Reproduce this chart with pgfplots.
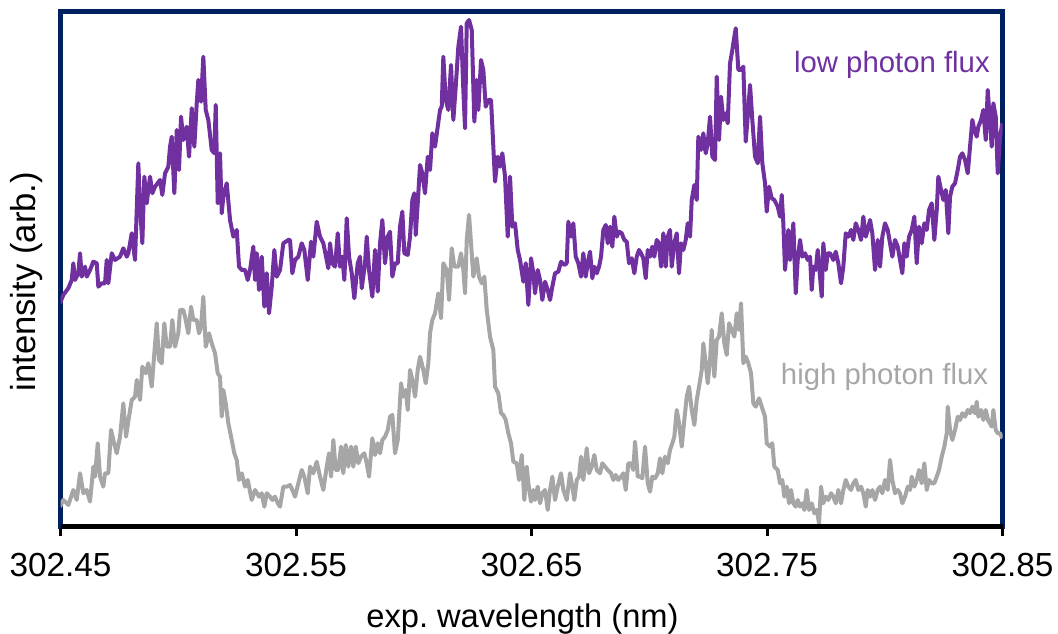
\documentclass[border=0pt]{standalone}
\usepackage{pgfplots}
\pgfplotsset{compat=1.18}
\usepackage{pgfplotstable}
\usepackage{fontspec}
\setmainfont{Liberation Sans}
\definecolor{navy}{HTML}{002060}
\definecolor{fluxpurple}{HTML}{7030A0}
\definecolor{fluxgray}{HTML}{A6A6A6}

% px = horizontal position (pixel units of the original plot), py = vertical position (pixel, down)
\pgfplotstableread{
px py
60 303.3
63.3 295
68.3 288.3
71.7 280
73.3 263.3
75 280
78.3 273.3
80 253.3
81.7 276.7
85 266.7
86.7 276.7
90 270
93.3 261.7
96.7 263.3
98.3 286.7
101.7 283.3
105 283.3
106.7 260
108.3 283.3
111.7 253.3
115 260
120 256.7
123.3 248.3
126.7 256.7
128.3 253.3
131.7 233.3
135 260
138.3 163.3
140 206.7
142.3 243.3
144.3 176.7
146.7 203.3
150 176.7
152.3 193.3
155 186.7
160 180
162.3 195
165 173.3
168.3 166.7
170 146.7
171.7 136.7
174.3 193.3
176.7 130
179 170
181 116.7
183.3 140
186.7 126.7
189 156.7
191.7 108.3
194.3 146.7
196.7 103.3
198.3 80
201 101.7
203.3 56.7
205.7 110
208.3 120
211.7 150
214.3 153.3
215.7 105
217.7 203.3
220 153.3
221.7 213.3
223.3 196.7
226.7 183.3
230 220
233.3 236.7
236.7 230
239 266.7
241.7 270
245 270
247.7 280
250 270
253.3 246.7
255 280
256.7 253.3
259 290
261.7 256.7
264.3 306.7
266.7 273.3
269 313.3
271.7 286.7
274.3 250
276.7 276.7
280 270
283.3 243.3
288.3 240
290 240
292.3 273.3
295 260
298.3 256.7
301.7 243.3
304.3 250
307.7 280
311 241.7
313.3 256.7
316.7 221.7
320 236.7
323.3 243.3
325.7 255
328.3 268.3
330 243.3
332.3 263.3
335 266.7
337.7 233.3
340 266.7
342.3 256.7
344.3 280
346.7 218.3
349 256.7
351.7 273.3
354.3 298.3
357.7 263.3
360 256.7
361.7 288.3
365 263.3
366.7 236.7
369 270
372.3 296.7
375 250
377.7 291.7
380 243.3
382.3 220
385 263.3
387.7 236.7
390 231.7
392.3 276.7
395 263.3
397.7 263.3
400 226.7
402.3 211.7
404.3 253.3
407.7 255
410 236.7
412.3 200
414.3 193.3
415.7 235
417.7 203.3
420 165
422.3 173.3
425 193.3
427.7 156.7
430 170
432.3 133.3
435 146.7
437.7 126.7
440 110
441.7 106.7
443.3 56.7
445.7 100
448.3 110
451 65
453.3 120
455.7 86.7
458.3 46.7
461 26.7
463.3 90
465 128.3
466.7 23.3
469 20
471.7 30
474.3 121.7
476.7 80
478.3 110
481 60
483.3 70
485.7 106.7
488.3 100
491 100
493.3 146.7
495 181.7
497.7 156.7
500 166.7
502.3 153.3
505 176.7
507.7 236.7
510 176.7
512.3 226.7
515 223.3
517.7 250
520 260
523.3 281.7
525.7 263.3
528.3 305
531 258.3
533.3 273.3
535 293.3
537.7 270
540 280
542.3 300
545 281.7
547.7 290
550 300
552.3 286.7
555 273.3
558.3 271.7
561 261.7
564.3 265
566.7 263.3
568.3 221.7
571 236.7
573.3 223.3
575.7 256.7
578.3 263.3
581 276.7
583.3 253.3
585.7 276.7
587.7 263.3
590 251.7
592.3 278.3
594.3 266.7
596.7 273.3
599 266.7
601 256.7
603.3 230
605.7 225
607.7 243.3
610 226.7
612.3 246.7
614.3 216.7
616.7 236.7
619 231.7
621.7 233.3
624.3 240
626.7 241.7
629 263.3
631.7 258.3
634.3 273.3
636.7 256.7
639 250
641 253.3
643.3 258.3
645.7 278.3
647.7 250
650 256.7
652.3 246.7
654.3 256.7
656.7 240
659 243.3
661 266.7
663.3 233.3
665.7 266.7
667.7 236.7
670 230
671.7 266.7
674.3 243.3
676.7 233.3
679 273.3
681 243.3
683.3 250
685.7 240
687.7 223.3
690 236.7
691.7 200
694.3 185
696.7 200
698.3 136.7
701 150
703.3 133.3
705.7 153.3
707.7 143.3
710 116.7
712.3 156.7
715 160
716.7 76.7
719 140
721 96.7
723.3 120
725.7 113.3
727.7 123.3
730 63.3
732.3 50
734.3 36.7
735.7 28.3
738.3 70
741 70
743.3 66.7
745.7 141.7
747.7 116.7
750 85
752.3 120
755 156.7
757.7 163.3
760 116.7
762.3 163.3
765 183.3
766.7 211.7
769 186.7
771.7 198.3
774.3 200
777.7 206.7
780 216.7
781.7 195
783.3 223.3
785 270
786.7 250
788.3 230
790 260
791.7 243.3
793.3 223.3
795.7 293.3
797.7 260
800 240
802.3 256.7
805 253.3
807.7 260
810 256.7
811.7 290
813.3 266.7
815.7 270
817.7 250
820 276.7
821.7 296.7
823.3 243.3
825.7 270
827.7 253.3
830 253.3
833.3 260
835.7 251.7
838.3 263.3
841 283.3
843.3 266.7
845.7 233.3
848.3 236.7
851 230
853.3 240
855.7 223.3
858.3 230
861 240
863.3 216.7
865.7 236.7
867.7 230
870 220
872.3 233.3
875 270
877.7 240
880 266.7
882.3 236.7
885 223.3
887.7 230
890 243.3
892.3 256.7
895 240
897.7 246.7
900 260
902.3 273.3
904.3 243.3
906.7 256.7
909 236.7
911.7 230
914.3 216.7
916.7 263.3
919 226.7
921.7 243.3
924.3 223.3
926.7 230
929 210
931.7 203.3
934.3 240
936.7 210
938.3 176.7
941 190
943.3 200
945.7 190
948.3 233.3
950 196.7
952.3 186.7
955 183.3
957.7 170
960 156.7
962.3 153.3
965 160
967.7 173.3
970 146.7
972.3 120
974.3 130
976.7 136.7
978.3 126.7
981 120
983.3 110
985.7 140
987.7 90
990 123.3
991.7 146.7
993.3 103.3
995.7 116.7
997.7 173.3
1000 136.7
1002.3 123.3
}\lowflux

\pgfplotstableread{
px py
60 506.7
63.3 500
68.3 505
73.3 490
76.7 500
80 473.3
83.3 493.3
86.7 490
90 501.7
93.3 466.7
95 476.7
97.7 443.3
100 476.7
103.3 486.7
105 473.3
108.3 473.3
111 430
113.3 440
116.7 453.3
120 436.7
123.3 403.3
126 436.7
129 416.7
131.7 400
135 396.7
136.7 380
140 400
142.3 366.7
145.7 373.3
148.3 363.3
151.7 386.7
154.3 353.3
156.7 323.3
159 360
161.7 363.3
164.3 323.3
166.7 346.7
170 346.7
172.3 320
175 346.7
178.3 333.3
180 310
183.3 310
185 316.7
188.3 333.3
191 306.7
193.3 320
196.7 320
199 333.3
201 326.7
203.3 296.7
205.7 346.7
209 333.3
211.7 343.3
215 353.3
217.7 373.3
220 376.7
221.7 416.7
223.3 390
225.7 403.3
228.3 423.3
231.7 440
234.3 453.3
236.7 460
239 480
241.7 473.3
245 486.7
247.7 480
251.7 500
255 490
259 496.7
261.7 493.3
264.3 506.7
266.7 493.3
270 496.7
272.3 500
275 496.7
277.7 503.3
280 506.7
283.3 486.7
286.7 486.7
290 485
292.3 490
295 496.7
298.3 483.3
301.7 470
304.3 476.7
307.7 493.3
310 466.7
313.3 473.3
316.7 461.7
320 476.7
323.3 490
326.7 466.7
329 453.3
331 476.7
333.3 440
335.7 470
338.3 470
341 446.7
343.3 473.3
345.7 445
348.3 466.7
351 446.7
353.3 466.7
355.7 446.7
358.3 463.3
361 456.7
364.3 453.3
366.7 463.3
369 476.7
372.3 438.3
375 455
377.7 443.3
380 453.3
382.3 440
385 436.7
387.7 430
390 416.7
392.3 415
395 453.3
397.7 440
401 383.3
403.3 396.7
405.7 390
407.7 410
410 370
412.3 380
415 396.7
417.7 370
420 356.7
423.3 370
425.7 383.3
428.3 363.3
430 333.3
432.3 320
435 313.3
438.3 293.3
441 318.3
443.3 263.3
446.7 270
449 300
451.7 248.3
454.3 266.7
456.7 266.7
458.3 266.7
461 253.3
463.3 270
465 293.3
466.7 240
469 215
471 243.3
473.3 276.7
476.7 258.3
479 276.7
481.7 283.3
484.3 276.7
486.7 310
490 336.7
493.3 350
495 386.7
498.3 393.3
501 413.3
503.3 415
505.7 420
508.3 433.3
511 443.3
513.3 461.7
516.7 463.3
519 480
521.7 455
524.3 500
526.7 466.7
528.3 483.3
531 501.7
533.3 490
535 500
537.7 486.7
540 503.3
542.3 493.3
545 490
547.7 510
550 490
552.3 476.7
555 500
557.7 486.7
561 473.3
563.3 490
566.7 500
570 473.3
572.3 486.7
574.3 500
576.7 480
579 476.7
581 456.7
583.3 480
586.7 448.3
589 473.3
591.7 466.7
594.3 455
596.7 470
600 473.3
602.3 463.3
605 466.7
607.7 470
611 473.3
613.3 480
615.7 475
618.3 480
621 476.7
623.3 473.3
625.7 490
628.3 463.3
631 463.3
633.3 470
635 441.7
637.7 476.7
640 476.7
642.3 478.3
645 446.7
647.7 483.3
650 491.7
652.3 476.7
655 478.3
657.7 473.3
660 458.3
662.3 473.3
665 456.7
667.7 463.3
670 450
672.3 443.3
674.3 436.7
676.7 410
679 423.3
681.7 446.7
684.3 420
686.7 396.7
689 386.7
691.7 410
694.3 425
696.7 400
699 386.7
701.7 370
703.3 343.3
705.7 363.3
707.7 383.3
710 360
711.7 330
714.3 376.7
716.7 340
719 336.7
721.7 313.3
724.3 343.3
726.7 355
729 323.3
731.7 330
734.3 336.7
736.7 313.3
739 330
741 303.3
743.3 363.3
745.7 356.7
748.3 363.3
751 373.3
753.3 403.3
755.7 406.7
759 398.3
761.7 406.7
765 416.7
766.7 443.3
770 446.7
772.3 443.3
774.3 466.7
777.7 470
780 483.3
782.3 480
784.3 496.7
786.7 486.7
789 503.3
791 490
793.3 503.3
795.7 506.7
797.7 500
800 506.7
802.3 503.3
804.3 510
806.7 490
809 510
811.7 503.3
814.3 513.3
816.7 510
819 523.3
821 486.7
823.3 503.3
825.7 496.7
828.3 500
831 493.3
833.3 496.7
835.7 503.3
838.3 490
841 503.3
843.3 490
845.7 480
848.3 486.7
851 490
853.3 483.3
855.7 480
858.3 490
861 486.7
863.3 493.3
865.7 506.7
867.7 490
870 496.7
872.3 490
875 500
877.7 490
880 486.7
882.3 493.3
885 480
887.7 490
890 460
892.3 480
895 493.3
897.7 490
900 493.3
902.3 503.3
905 496.7
907.7 486.7
910 490
911.7 476.7
914.3 486.7
916.7 480
919 470
921.7 483.3
924.3 463.3
926.7 490
929 480
931.7 483.3
934.3 483.3
936.7 476.7
939 470
941.7 456.7
944.3 446.7
946.7 433.3
947.7 406.7
950 430
952.3 440
955 430
957.7 416.7
960 420
962.3 413.3
965 416.7
967.7 410
970 413.3
972.3 406.7
975 413.3
976.7 401.7
978.3 416.7
981 410
983.3 420
985.7 410
988 420
991.7 426.7
993.3 410
995.7 430
997.7 433.3
1000 433.3
1002.3 438.3
}\highflux

\begin{document}
\begin{tikzpicture}
\begin{axis}[
  scale only axis,
  width=706.5pt, height=386.25pt,
  xmin=60.5, xmax=1002.5,
  ymin=0.5, ymax=515.5,
  xtick={60.5,296,531.5,767,1002.5},
  xticklabels={\mbox{302.45},\mbox{302.55},\mbox{302.65},\mbox{302.75},\mbox{302.85}},
  ytick=\empty,
  xtick pos=bottom,
  tick align=outside,
  major tick length=7.5pt,
  every tick/.style={black, line width=2.2pt},
  axis line style={navy, line width=3.6pt},
  xticklabel style={font=\fontsize{25}{29}\selectfont, yshift=-9pt},
  every axis x label/.style={at={(axis description cs:0.4904,0)}, anchor=base, yshift=-76pt, font=\fontsize{24.5}{29}\selectfont},
  every axis y label/.style={at={(axis description cs:-0.027,0.4753)}, anchor=base, rotate=90, font=\fontsize{26}{30}\selectfont},
  xlabel={exp.\ wavelength (nm)},
  ylabel={intensity (arb.)},
  clip=true,
]
\addplot[fluxgray, line width=3pt, line join=round] table[x=px, y expr=527-\thisrow{py}] {\highflux};
\addplot[fluxpurple, line width=3pt, line join=round] table[x=px, y expr=527-\thisrow{py}] {\lowflux};
\node[anchor=base east, text=fluxpurple, font=\fontsize{22}{26}\selectfont, inner sep=0pt] at (axis cs:990,454.3) {low photon flux};
\node[anchor=base east, text=fluxgray, font=\fontsize{22}{26}\selectfont, inner sep=0pt] at (axis cs:988.3,142) {high photon flux};
\end{axis}
\draw[black, line width=3.2pt] (current axis.south west) -- (current axis.south east);
\pgfresetboundingbox
\path ([xshift=-45.4pt,yshift=-79.9pt]current axis.south west) rectangle ([xshift=41.6pt,yshift=8.6pt]current axis.north east);
\end{tikzpicture}
\end{document}
